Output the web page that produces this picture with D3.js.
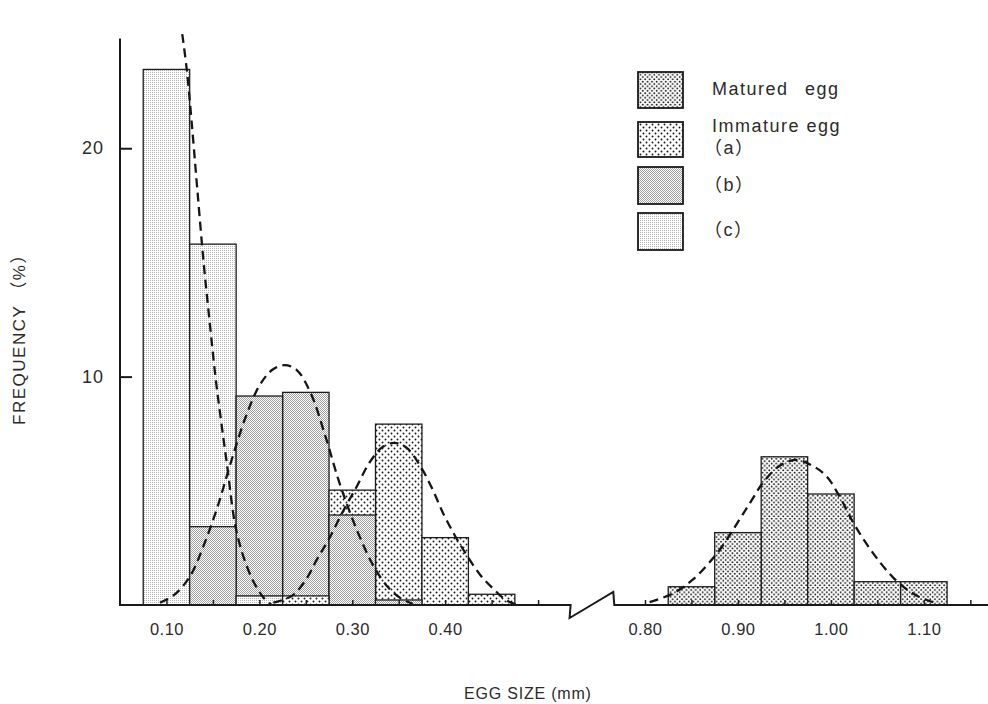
<!DOCTYPE html>
<html><head><meta charset="utf-8">
<script src="https://cdn.jsdelivr.net/npm/d3@7"></script>
<style>
body{margin:0;background:#fff}
svg{display:block}
text{font-family:"Liberation Sans",Arial,"Noto Sans CJK JP",sans-serif;fill:#2b2b2b}
</style>
</head><body>
<svg id="chart" width="988" height="704"></svg>
<script>
// ---- data ----
const smallBins   = [0.10, 0.15, 0.20, 0.25, 0.30, 0.35, 0.40, 0.45];
const immatureC   = [23.45, 15.8, 0.4, 0, 0, 0, 0, 0];
const immatureB   = [0, 3.43, 9.15, 9.31, 3.94, 0.22, 0, 0];
const immatureA   = [0, 0, 0, 0.4, 5.03, 7.92, 2.95, 0.47];
const largeBins   = [0.85, 0.90, 0.95, 1.00, 1.05, 1.10];
const maturedVals = [0.8, 3.17, 6.49, 4.86, 1.02, 1.02];

const curveC = [[0.117,25.0],[0.122,23.4],[0.127,21.2],[0.133,18.3],[0.140,15.0],[0.147,12.2],[0.153,9.9],[0.159,8.0],[0.165,6.2],[0.174,3.5],[0.183,2.1],[0.194,1.0],[0.205,0.3],[0.213,0.0]];
const curveB = [[0.093,0.1],[0.110,0.5],[0.126,1.3],[0.140,2.6],[0.155,4.3],[0.169,6.2],[0.185,8.2],[0.200,9.6],[0.214,10.3],[0.227,10.5],[0.240,10.3],[0.255,9.3],[0.271,7.4],[0.285,5.5],[0.298,4.0],[0.310,2.8],[0.323,1.7],[0.338,0.8],[0.352,0.3],[0.365,0.05]];
const curveA = [[0.215,0.1],[0.235,0.4],[0.250,1.1],[0.262,2.0],[0.275,2.9],[0.290,4.1],[0.305,5.2],[0.318,6.2],[0.332,6.9],[0.345,7.1],[0.358,6.9],[0.373,6.1],[0.386,5.1],[0.398,4.0],[0.411,3.0],[0.423,2.2],[0.438,1.3],[0.452,0.7],[0.466,0.2],[0.478,0.0]];
const curveM = [[0.805,0.13],[0.830,0.5],[0.852,1.13],[0.868,1.8],[0.881,2.45],[0.902,3.76],[0.915,4.6],[0.927,5.36],[0.945,6.1],[0.963,6.35],[0.980,6.1],[0.995,5.65],[1.010,4.7],[1.024,3.61],[1.038,2.7],[1.053,1.86],[1.067,1.2],[1.081,0.7],[1.095,0.35],[1.110,0.12]];

const xTicks      = [0.10,0.15,0.20,0.25,0.30,0.35,0.40,0.45,0.50,0.80,0.85,0.90,0.95,1.00,1.05,1.10,1.15];
const xTickLabels = {"0.1":"0.10","0.2":"0.20","0.3":"0.30","0.4":"0.40","0.8":"0.80","0.9":"0.90","1":"1.00","1.1":"1.10"};
const yTicks      = [10, 20];
const legendLabels = [["Matured","egg"],["Immature egg","（a）"],["（b）"],["（c）"]];
const legendKeys   = ["pM","pA","pB","pC"];
const breakDomain  = [0.535, 0.767];

// ---- scales ----
const x = d3.scaleLinear().domain([0.05, breakDomain[0], breakDomain[1], 1.169]).range([120, 570.6, 614.3, 988]);
const y = d3.scaleLinear().domain([0, 24.8]).range([605, 38.6]);
const binW = 0.05;

const svg = d3.select("#chart");
const defs = svg.append("defs");

// patterns
function dotPattern(id, size, r, col){
  const p = defs.append("pattern").attr("id", id).attr("patternUnits","userSpaceOnUse").attr("width", size).attr("height", size);
  p.append("rect").attr("width", size).attr("height", size).attr("fill","#fff");
  p.append("circle").attr("cx", size*0.25).attr("cy", size*0.25).attr("r", r).attr("fill", col);
  p.append("circle").attr("cx", size*0.75).attr("cy", size*0.75).attr("r", r).attr("fill", col);
}
dotPattern("pM", 4.6, 0.95, "#161616");
dotPattern("pA", 6.0, 0.95, "#1a1a1a");
function finePattern(id, col, checker){
  const p = defs.append("pattern").attr("id", id).attr("patternUnits","userSpaceOnUse").attr("width", 2).attr("height", 2);
  p.append("rect").attr("width", 2).attr("height", 2).attr("fill","#fff");
  p.append("rect").attr("x",0).attr("y",0).attr("width",1).attr("height",1).attr("fill", col);
  if (checker) p.append("rect").attr("x",1).attr("y",1).attr("width",1).attr("height",1).attr("fill", col);
}
finePattern("pB", "#a0a0a0", true);
finePattern("pC", "#b4b4b4", false);

// ---- bars ----
const bars = [];
smallBins.forEach((b,i)=>{
  if (immatureC[i] > 0) bars.push({b, v: immatureC[i], p:"pC"});
  if (immatureB[i] > 0) bars.push({b, v: immatureB[i], p:"pB"});
  if (immatureA[i] > 0) bars.push({b, v: immatureA[i], p:"pA"});
});
largeBins.forEach((b,i)=> bars.push({b, v: maturedVals[i], p:"pM"}));
bars.sort((a,b)=> b.v - a.v);

svg.append("g").selectAll("rect").data(bars).join("rect")
  .attr("x", d => x(d.b - binW/2))
  .attr("width", d => x(d.b + binW/2) - x(d.b - binW/2))
  .attr("y", d => y(d.v))
  .attr("height", d => y(0) - y(d.v))
  .attr("fill", d => `url(#${d.p})`)
  .attr("stroke", "#1e1e1e").attr("stroke-width", 1.3);

// ---- dashed curves ----
const line = d3.line().x(d=>x(d[0])).y(d=>y(d[1])).curve(d3.curveCatmullRom.alpha(0.5));
svg.append("g").selectAll("path").data([curveC, curveB, curveA, curveM]).join("path")
  .attr("d", line).attr("fill","none").attr("stroke","#151515")
  .attr("stroke-width", 2.3).attr("stroke-dasharray","9,5.5");

// ---- axes ----
const xAxis = d3.axisBottom(x).tickValues(xTicks)
  .tickFormat(d => xTickLabels[String(+d.toFixed(2))] || "")
  .tickSize(-5).tickPadding(18);
const gx = svg.append("g").attr("transform", `translate(0,${y(0)})`).call(xAxis);
gx.select(".domain").remove();
gx.selectAll(".tick line").attr("stroke","#1e1e1e").attr("stroke-width",1.5);
gx.selectAll("text").attr("font-size", 16.5).style("letter-spacing","0.5px").attr("fill","#2b2b2b");

// baseline with break
const x0 = y(0);
const bx1 = x(breakDomain[0]), bx2 = x(breakDomain[1]);
svg.append("path")
  .attr("d", `M${x(0.05)},${x0}H${bx1}L${bx1-1},${x0+13}L${bx2-1},${x0-13}L${bx2},${x0}H${x(1.169)}`)
  .attr("fill","none").attr("stroke","#1a1a1a").attr("stroke-width",2);

const yAxis = d3.axisLeft(y).tickValues(yTicks).tickSize(-12).tickPadding(16);
const gy = svg.append("g").attr("transform", `translate(${x(0.05)},0)`).call(yAxis);
gy.select(".domain").remove();
gy.selectAll(".tick line").attr("stroke","#1a1a1a").attr("stroke-width",2);
gy.selectAll("text").attr("font-size", 18).style("letter-spacing","1px").attr("fill","#2b2b2b");
svg.append("line").attr("x1", x(0.05)).attr("x2", x(0.05)).attr("y1", y(0)+1).attr("y2", y(24.8))
  .attr("stroke","#1a1a1a").attr("stroke-width",2);

// ---- titles ----
svg.append("text").attr("x", 464).attr("y", 699).attr("font-size", 16)
  .style("letter-spacing","0.8px").text("EGG SIZE (mm)");
svg.append("text").attr("transform","translate(25,335) rotate(-90)").attr("text-anchor","middle")
  .attr("font-size", 17).style("letter-spacing","1.5px").text("FREQUENCY （%）");

// ---- legend ----
const boxes = [[72,36],[122,35],[167,37],[213,37]];
const lg = svg.append("g");
boxes.forEach((bx,i)=>{
  lg.append("rect").attr("x",638).attr("y",bx[0]).attr("width",45).attr("height",bx[1])
    .attr("fill",`url(#${legendKeys[i]})`).attr("stroke","#1a1a1a").attr("stroke-width",1.8);
});
const lt = (txt, xx, yy) => lg.append("text").attr("x",xx).attr("y",yy).attr("font-size",18)
  .style("letter-spacing","1.5px").text(txt);
lt(legendLabels[0][0], 712, 95);
lt(legendLabels[0][1], 805, 95);
lt(legendLabels[1][0], 712, 132);
lt(legendLabels[1][1], 704, 154);
lt(legendLabels[2][0], 704, 191);
lt(legendLabels[3][0], 704, 236);
</script>
</body></html>
